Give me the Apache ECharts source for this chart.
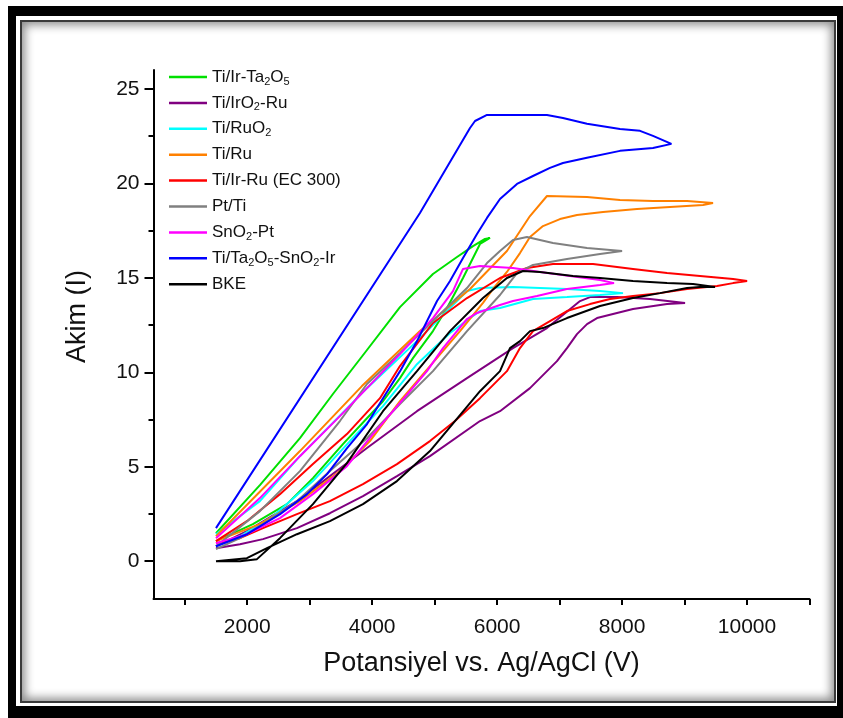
<!DOCTYPE html>
<html><head><meta charset="utf-8">
<script src="https://cdn.jsdelivr.net/npm/echarts@6/dist/echarts.min.js"></script>
<style>
html,body{margin:0;padding:0;background:#fff;width:843px;height:718px;overflow:hidden;}
#outer{position:absolute;left:8px;top:6px;width:837px;height:714px;box-sizing:border-box;border-style:solid;border-color:#000;border-width:10px 8px 14px 8px;}
#inner{position:absolute;left:20px;top:20px;width:816px;height:683px;box-sizing:border-box;border:2px solid #3a3a3a;box-shadow:inset 0 0 10px 3px rgba(0,0,0,0.45);}
#chart{position:absolute;left:0;top:0;width:843px;height:718px;}
</style></head>
<body><div id="outer"></div><div id="inner"></div><div id="chart"></div>
<script>
// ---- data (potential, current) ----
const seriesNames = ['Ti/Ir-Ta2O5','Ti/IrO2-Ru','Ti/RuO2','Ti/Ru','Ti/Ir-Ru (EC 300)','Pt/Ti','SnO2-Pt','Ti/Ta2O5-SnO2-Ir','BKE'];
const seriesColors = ['#00e000','#800080','#00ffff','#ff8000','#ff0000','#808080','#ff00ff','#0000ff','#000000'];

const tiIrTa2O5 = [[1500,1.48],[2203,4.03],[2844,6.51],[3372,8.85],[3917,11.18],[4445,13.45],[4973,15.2],[5358,16.1],[5614,16.68],[5806,17.06],[5886,17.11],
  [5726,16.79],[5614,16.05],[5454,14.99],[5198,13.4],[4973,12.18],[4653,10.75],[4445,9.69],[4173,8.47],[3917,7.57],[3532,6.2],[3052,4.4],[2636,3.02],[2091,1.96],[1500,1.06]];

const tiIrO2Ru = [[1500,0.79],[1995,1.59],[2796,3.18],[3917,5.99],[4717,7.94],[5518,9.69],[6254,11.28],[6798,12.34],[7327,13.77],[7487,13.98],[7919,13.98],[8447,13.88],[9008,13.67],
  [8720,13.61],[8175,13.35],[7919,13.14],[7599,12.87],[7439,12.55],[7278,12.02],[7118,11.28],[6958,10.59],[6526,9.16],[6046,7.94],[5726,7.42],[4925,5.56],[4397,4.5],[3853,3.44],[3324,2.54],[2796,1.75],[2252,1.17],[1884,0.9],[1500,0.69]];

const tiRuO2 = [[1500,1.43],[2203,3.18],[2844,5.56],[3917,9.16],[4717,11.65],[5246,13.4],[5518,14.3],[5726,14.46],[6254,14.51],[7118,14.41],[7647,14.3],[8015,14.19],
  [7647,14.09],[7118,13.98],[6574,13.88],[6046,13.4],[5726,13.24],[5614,12.98],[5246,12.08],[4717,10.43],[4173,8.21],[3645,6.36],[3052,4.24],[2412,2.38],[1884,1.32],[1500,0.79]];

const tiRu = [[1500,1.32],[2844,5.83],[3836,9.27],[4765,12.18],[5566,14.41],[6157,16.42],[6526,18.27],[6798,19.33],[7438,19.28],[7967,19.12],[8495,19.07],[9040,19.07],[9456,18.96],
  [9296,18.86],[8767,18.75],[8239,18.64],[7695,18.48],[7278,18.33],[7006,18.11],[6734,17.74],[6526,17.16],[6366,16.31],[6157,15.31],[5934,14.41],[5774,13.67],[5406,12.18],[4925,10.33],[4445,8.47],[3964,6.36],[3484,4.77],[2844,3.18],[2203,1.96],[1500,1.06]];

const tiIrRuEC300 = [[1500,1.06],[1995,2.12],[2524,3.55],[3052,5.14],[3596,6.73],[4125,8.63],[4445,10.33],[4973,12.61],[5518,13.93],[6046,14.99],[6478,15.52],[6894,15.73],[7535,15.73],[8175,15.47],[8720,15.25],[9248,15.1],[9777,14.94],[10001,14.83],
  [9777,14.72],[9520,14.57],[9040,14.41],[8607,14.19],[8175,14.04],[7807,13.88],[7487,13.61],[7118,13.24],[6846,12.71],[6574,12.18],[6366,11.28],[6157,10.06],[5726,8.63],[5325,7.42],[4925,6.36],[4397,5.14],[3853,4.08],[3324,3.18],[2796,2.49],[2252,1.75],[1884,1.22],[1500,0.95]];

const ptTi = [[1500,0.79],[2203,2.65],[2844,4.77],[3484,7.42],[3917,9.38],[4445,11.02],[4973,12.71],[5518,14.46],[5838,15.78],[6046,16.42],[6254,17.0],[6478,17.16],[6894,16.84],[7439,16.58],[8000,16.42],
  [7647,16.26],[7118,16.0],[6574,15.68],[6318,15.25],[6094,14.3],[6046,14.09],[5518,12.18],[4973,10.06],[4445,8.32],[3917,6.51],[3324,4.77],[2796,3.18],[2252,1.96],[1884,1.22],[1500,0.64]];

const snO2Pt = [[1500,1.22],[2203,3.34],[2844,5.56],[3484,7.68],[3917,9.16],[4445,10.96],[4973,12.87],[5293,14.3],[5454,15.47],[5726,15.63],[6254,15.52],[6686,15.31],[7166,15.1],[7647,14.88],[7871,14.72],
  [7647,14.62],[7118,14.41],[6638,14.04],[6254,13.77],[6046,13.56],[5678,13.14],[5518,12.82],[5358,12.18],[5134,11.28],[4877,10.06],[4606,9.0],[4333,7.94],[4013,6.73],[3596,5.03],[3052,3.55],[2524,2.28],[1995,1.43],[1500,0.95]];

const tiTa2O5SnO2Ir = [[1500,1.75],[4765,18.43],[5566,22.93],[5646,23.3],[5838,23.62],[6798,23.62],[7054,23.46],[7438,23.15],[7967,22.88],[8287,22.78],[8495,22.51],[8790,22.09],
  [8495,21.87],[7967,21.72],[7438,21.35],[7054,21.08],[6846,20.82],[6574,20.39],[6318,19.97],[6046,19.17],[5838,18.17],[5678,17.32],[5454,16.05],[5246,14.83],[5038,13.77],[4718,11.65],[4446,10.06],[4174,8.63],[3918,7.26],[3598,5.99],[3278,4.61],[2958,3.55],[2526,2.49],[1997,1.43],[1500,0.79]];

const bke = [[1500,0],[1884,0],[2156,0.11],[2524,1.22],[3052,3.02],[3596,5.19],[4173,7.94],[4717,10.06],[5246,12.18],[5774,13.93],[6157,14.99],[6414,15.36],[6686,15.31],[7214,15.1],[7647,14.99],[8175,14.83],[8720,14.72],[9136,14.67],[9488,14.51],
  [9248,14.51],[9040,14.46],[8607,14.19],[8175,13.93],[7647,13.51],[7118,12.87],[6734,12.34],[6526,12.18],[6366,11.65],[6206,11.28],[6046,10.06],[5726,9.0],[4925,5.83],[4397,4.24],[3853,3.02],[3324,2.12],[2796,1.43],[2316,0.69],[1995,0.16],[1500,0]];

const seriesData = [tiIrTa2O5, tiIrO2Ru, tiRuO2, tiRu, tiIrRuEC300, ptTi, snO2Pt, tiTa2O5SnO2Ir, bke];

const xTicks = [1000,2000,3000,4000,5000,6000,7000,8000,9000,10000,11000];
const xLabels = [2000,4000,6000,8000,10000];
const yMajor = [0,5,10,15,20,25];
const yMinor = [2.5,7.5,12.5,17.5,22.5];

const FONT = 'Arial, "Liberation Sans", sans-serif';
const chart = echarts.init(document.getElementById('chart'), null, {renderer:'canvas'});

const option = {
  animation: false,
  backgroundColor: 'transparent',
  grid: {left: 153.5, right: 33.5, top: 70, bottom: 119, containLabel: false, outerBoundsMode: 'none'},
  legend: {
    orient: 'vertical', left: 164, top: 62, itemGap: 5.9,
    icon: 'rect', itemWidth: 38, itemHeight: 2.5,
    data: seriesNames,
    formatter: n => n.replace(/([A-Za-z])(\d)/g, '$1{sub|$2}'),
    textStyle: {fontFamily: FONT, fontSize: 17, color: '#111', lineHeight: 20,
      rich: {sub: {fontFamily: FONT, fontSize: 11, color: '#111', verticalAlign: 'bottom', lineHeight: 11}}}
  },
  xAxis: {
    type: 'value', min: 500, max: 11000,
    name: 'Potansiyel vs. Ag/AgCl (V)', nameLocation: 'middle', nameGap: 51,
    nameTextStyle: {fontFamily: FONT, fontSize: 27, color: '#111'},
    axisLine: {show: true, onZero: false, lineStyle: {color: '#000', width: 2}},
    axisTick: {show: true, inside: false, length: 6, customValues: xTicks, lineStyle: {color: '#000', width: 2}},
    axisLabel: {customValues: xLabels, formatter: v => String(v), fontFamily: FONT, fontSize: 21, color: '#111', margin: 18},
    splitLine: {show: false}
  },
  yAxis: [{
    type: 'value', min: -2, max: 26,
    name: 'Akim (I)', nameLocation: 'middle', nameGap: 62,
    nameTextStyle: {fontFamily: FONT, fontSize: 27, color: '#111', padding: [0, 0, 0, 36]},
    axisLine: {show: true, onZero: false, lineStyle: {color: '#000', width: 2}},
    axisTick: {show: true, inside: false, length: 9, customValues: yMajor, lineStyle: {color: '#000', width: 2}},
    axisLabel: {customValues: yMajor, formatter: v => String(v), fontFamily: FONT, fontSize: 21, color: '#111', margin: 14},
    splitLine: {show: false}
  },{
    type: 'value', min: -2, max: 26, position: 'left',
    axisLine: {show: false, onZero: false},
    axisTick: {show: true, inside: false, length: 5, customValues: yMinor, lineStyle: {color: '#000', width: 2}},
    axisLabel: {show: false},
    splitLine: {show: false}
  }],
  series: seriesNames.map((n, i) => ({
    name: n, type: 'line', data: seriesData[i], xAxisIndex: 0, yAxisIndex: 0,
    showSymbol: false, symbol: 'none', smooth: false,
    lineStyle: {color: seriesColors[i], width: 2}, itemStyle: {color: seriesColors[i]},
    z: 2
  }))
};
chart.setOption(option);
</script></body></html>
